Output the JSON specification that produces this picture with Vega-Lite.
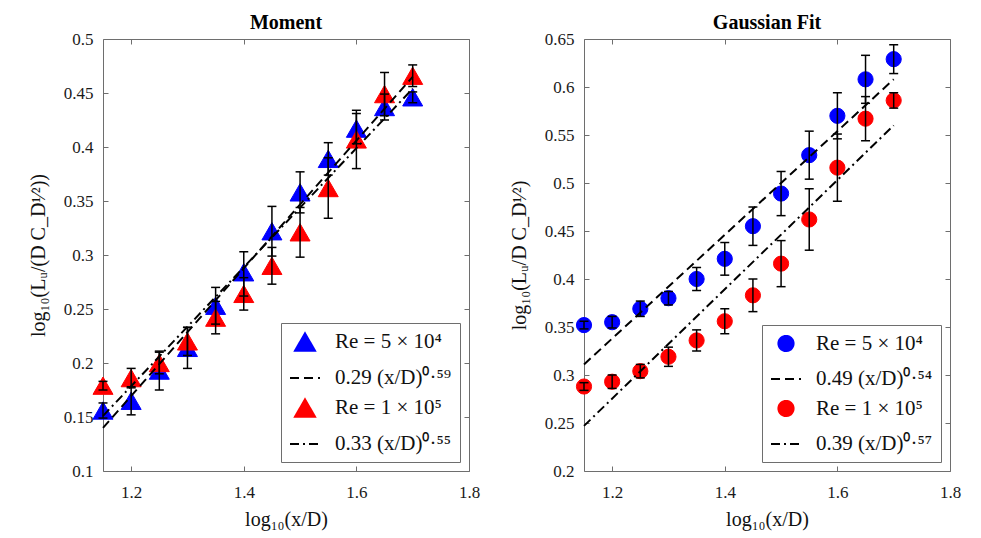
{
  "$schema": "https://vega.github.io/schema/vega-lite/v6.json",
  "padding": {"left": 27, "top": 12, "right": 5, "bottom": 5},
  "spacing": 27,
  "background": "white",
  "resolve": {
    "scale": {"fill": "independent", "stroke": "independent", "shape": "independent", "size": "independent", "strokeDash": "independent"},
    "legend": {"fill": "independent", "stroke": "independent", "shape": "independent", "size": "independent", "strokeDash": "independent"}
  },
  "config": {
    "font": "Liberation Serif",
    "view": {"stroke": "#6e6e6e", "strokeWidth": 1},
    "axis": {
      "domain": false, "grid": false, "tickSize": -5, "tickColor": "#6e6e6e", "tickWidth": 1,
      "labelPadding": 15, "labelFont": "Liberation Serif", "labelFontSize": 17, "labelColor": "#1a1a1a",
      "labelFlush": false, "labelOverlap": false,
      "titleFont": "Liberation Serif", "titleFontSize": 20, "titleFontWeight": "normal", "titleColor": "#111111",
      "titlePadding": 8
    },
    "axisX": {"labelPadding": 18, "titlePadding": 9},
    "axisY": {"titlePadding": 15},
    "legend": {
      "orient": "bottom-right", "offset": 9, "padding": 8, "strokeColor": "#6e6e6e", "fillColor": "white",
      "labelFont": "Liberation Serif", "labelFontSize": 21, "labelColor": "#111111", "labelLimit": 300,
      "symbolStrokeWidth": 2, "rowPadding": 7, "labelOffset": 14, "symbolOpacity": 1
    },
    "title": {"font": "Liberation Serif", "fontSize": 20, "fontWeight": "bold", "color": "#000000", "offset": -3, "anchor": "middle"}
  },
  "datasets": {
    "moment": [
      {"x": 1.15, "y": 0.156, "lo": 0.149, "hi": 0.163, "series": "Re = 5 × 10⁴"},
      {"x": 1.2, "y": 0.165, "lo": 0.152, "hi": 0.178, "series": "Re = 5 × 10⁴"},
      {"x": 1.25, "y": 0.193, "lo": 0.175, "hi": 0.211, "series": "Re = 5 × 10⁴"},
      {"x": 1.3, "y": 0.214, "lo": 0.195, "hi": 0.233, "series": "Re = 5 × 10⁴"},
      {"x": 1.35, "y": 0.253, "lo": 0.236, "hi": 0.27, "series": "Re = 5 × 10⁴"},
      {"x": 1.4, "y": 0.284, "lo": 0.262, "hi": 0.303, "series": "Re = 5 × 10⁴"},
      {"x": 1.45, "y": 0.322, "lo": 0.299, "hi": 0.345, "series": "Re = 5 × 10⁴"},
      {"x": 1.5, "y": 0.358, "lo": 0.339, "hi": 0.377, "series": "Re = 5 × 10⁴"},
      {"x": 1.55, "y": 0.389, "lo": 0.374, "hi": 0.404, "series": "Re = 5 × 10⁴"},
      {"x": 1.6, "y": 0.417, "lo": 0.403, "hi": 0.431, "series": "Re = 5 × 10⁴"},
      {"x": 1.65, "y": 0.437, "lo": 0.425, "hi": 0.449, "series": "Re = 5 × 10⁴"},
      {"x": 1.7, "y": 0.446, "lo": 0.441, "hi": 0.451, "series": "Re = 5 × 10⁴"},
      {"x": 1.15, "y": 0.179, "lo": 0.175, "hi": 0.183, "series": "Re = 1 × 10⁵"},
      {"x": 1.2, "y": 0.186, "lo": 0.177, "hi": 0.195, "series": "Re = 1 × 10⁵"},
      {"x": 1.25, "y": 0.2, "lo": 0.19, "hi": 0.21, "series": "Re = 1 × 10⁵"},
      {"x": 1.3, "y": 0.22, "lo": 0.207, "hi": 0.233, "series": "Re = 1 × 10⁵"},
      {"x": 1.35, "y": 0.242, "lo": 0.227, "hi": 0.257, "series": "Re = 1 × 10⁵"},
      {"x": 1.4, "y": 0.264, "lo": 0.249, "hi": 0.279, "series": "Re = 1 × 10⁵"},
      {"x": 1.45, "y": 0.29, "lo": 0.273, "hi": 0.307, "series": "Re = 1 × 10⁵"},
      {"x": 1.5, "y": 0.321, "lo": 0.298, "hi": 0.344, "series": "Re = 1 × 10⁵"},
      {"x": 1.55, "y": 0.362, "lo": 0.334, "hi": 0.39, "series": "Re = 1 × 10⁵"},
      {"x": 1.6, "y": 0.407, "lo": 0.38, "hi": 0.434, "series": "Re = 1 × 10⁵"},
      {"x": 1.65, "y": 0.449, "lo": 0.429, "hi": 0.469, "series": "Re = 1 × 10⁵"},
      {"x": 1.7, "y": 0.466, "lo": 0.456, "hi": 0.476, "series": "Re = 1 × 10⁵"}
    ],
    "momentFit": [
      {"x": 1.15, "y": 0.14, "series": "0.29 (x/D)⁰·⁵⁹"},
      {"x": 1.7, "y": 0.465, "series": "0.29 (x/D)⁰·⁵⁹"},
      {"x": 1.15, "y": 0.151, "series": "0.33 (x/D)⁰·⁵⁵"},
      {"x": 1.7, "y": 0.454, "series": "0.33 (x/D)⁰·⁵⁵"}
    ],
    "gauss": [
      {"x": 1.15, "y": 0.352, "lo": 0.348, "hi": 0.356, "series": "Re = 5 × 10⁴"},
      {"x": 1.2, "y": 0.355, "lo": 0.349, "hi": 0.361, "series": "Re = 5 × 10⁴"},
      {"x": 1.25, "y": 0.369, "lo": 0.361, "hi": 0.377, "series": "Re = 5 × 10⁴"},
      {"x": 1.3, "y": 0.38, "lo": 0.373, "hi": 0.387, "series": "Re = 5 × 10⁴"},
      {"x": 1.35, "y": 0.4, "lo": 0.388, "hi": 0.412, "series": "Re = 5 × 10⁴"},
      {"x": 1.4, "y": 0.421, "lo": 0.404, "hi": 0.438, "series": "Re = 5 × 10⁴"},
      {"x": 1.45, "y": 0.455, "lo": 0.435, "hi": 0.475, "series": "Re = 5 × 10⁴"},
      {"x": 1.5, "y": 0.489, "lo": 0.466, "hi": 0.512, "series": "Re = 5 × 10⁴"},
      {"x": 1.55, "y": 0.529, "lo": 0.504, "hi": 0.554, "series": "Re = 5 × 10⁴"},
      {"x": 1.6, "y": 0.57, "lo": 0.546, "hi": 0.594, "series": "Re = 5 × 10⁴"},
      {"x": 1.65, "y": 0.608, "lo": 0.583, "hi": 0.633, "series": "Re = 5 × 10⁴"},
      {"x": 1.7, "y": 0.629, "lo": 0.614, "hi": 0.644, "series": "Re = 5 × 10⁴"},
      {"x": 1.15, "y": 0.288, "lo": 0.284, "hi": 0.292, "series": "Re = 1 × 10⁵"},
      {"x": 1.2, "y": 0.293, "lo": 0.286, "hi": 0.3, "series": "Re = 1 × 10⁵"},
      {"x": 1.25, "y": 0.304, "lo": 0.297, "hi": 0.311, "series": "Re = 1 × 10⁵"},
      {"x": 1.3, "y": 0.319, "lo": 0.309, "hi": 0.329, "series": "Re = 1 × 10⁵"},
      {"x": 1.35, "y": 0.336, "lo": 0.325, "hi": 0.347, "series": "Re = 1 × 10⁵"},
      {"x": 1.4, "y": 0.356, "lo": 0.343, "hi": 0.369, "series": "Re = 1 × 10⁵"},
      {"x": 1.45, "y": 0.383, "lo": 0.366, "hi": 0.4, "series": "Re = 1 × 10⁵"},
      {"x": 1.5, "y": 0.416, "lo": 0.392, "hi": 0.44, "series": "Re = 1 × 10⁵"},
      {"x": 1.55, "y": 0.462, "lo": 0.43, "hi": 0.494, "series": "Re = 1 × 10⁵"},
      {"x": 1.6, "y": 0.516, "lo": 0.481, "hi": 0.551, "series": "Re = 1 × 10⁵"},
      {"x": 1.65, "y": 0.567, "lo": 0.544, "hi": 0.59, "series": "Re = 1 × 10⁵"},
      {"x": 1.7, "y": 0.586, "lo": 0.578, "hi": 0.594, "series": "Re = 1 × 10⁵"}
    ],
    "gaussFit": [
      {"x": 1.15, "y": 0.311, "series": "0.49 (x/D)⁰·⁵⁴"},
      {"x": 1.7, "y": 0.608, "series": "0.49 (x/D)⁰·⁵⁴"},
      {"x": 1.15, "y": 0.247, "series": "0.39 (x/D)⁰·⁵⁷"},
      {"x": 1.7, "y": 0.56, "series": "0.39 (x/D)⁰·⁵⁷"}
    ]
  },
  "hconcat": [
    {
      "width": 366, "height": 432,
      "title": "Moment",
      "layer": [
        {
          "data": {"name": "moment"},
          "mark": {"type": "point", "filled": true, "opacity": 1, "strokeWidth": 1},
          "encoding": {
            "x": {"field": "x", "type": "quantitative", "scale": {"domain": [1.15, 1.8], "nice": false, "zero": false},
                  "axis": {"orient": "bottom", "values": [1.2, 1.4, 1.6, 1.8], "format": "~g", "title": "log₁₀(x/D)"}},
            "y": {"field": "y", "type": "quantitative", "scale": {"domain": [0.1, 0.5], "nice": false, "zero": false},
                  "axis": {"orient": "left", "values": [0.1, 0.15, 0.2, 0.25, 0.3, 0.35, 0.4, 0.45, 0.5], "format": "~g", "title": "log₁₀(Lᵤ/(D C_D¹⁄²))"}},
            "fill": {"field": "series", "type": "nominal", "legend": {"title": null},
                     "scale": {"domain": ["Re = 5 × 10⁴", "0.29 (x/D)⁰·⁵⁹", "Re = 1 × 10⁵", "0.33 (x/D)⁰·⁵⁵"], "range": ["#0000ff", "#000000", "#ff0000", "#000000"]}},
            "stroke": {"field": "series", "type": "nominal", "legend": {"title": null},
                     "scale": {"domain": ["Re = 5 × 10⁴", "0.29 (x/D)⁰·⁵⁹", "Re = 1 × 10⁵", "0.33 (x/D)⁰·⁵⁵"], "range": ["#0000ff", "#000000", "#ff0000", "#000000"]}},
            "shape": {"field": "series", "type": "nominal", "legend": {"title": null},
                     "scale": {"domain": ["Re = 5 × 10⁴", "0.29 (x/D)⁰·⁵⁹", "Re = 1 × 10⁵", "0.33 (x/D)⁰·⁵⁵"], "range": ["triangle-up", "stroke", "triangle-up", "stroke"]}},
            "size": {"field": "series", "type": "nominal", "legend": {"title": null},
                     "scale": {"type": "ordinal", "domain": ["Re = 5 × 10⁴", "0.29 (x/D)⁰·⁵⁹", "Re = 1 × 10⁵", "0.33 (x/D)⁰·⁵⁵"], "range": [400, 900, 400, 900]}}
          }
        },
        {
          "data": {"name": "momentFit"},
          "mark": {"type": "line", "strokeWidth": 2},
          "encoding": {
            "x": {"field": "x", "type": "quantitative", "axis": null},
            "y": {"field": "y", "type": "quantitative", "axis": null},
            "stroke": {"field": "series", "type": "nominal", "legend": {"title": null},
                     "scale": {"domain": ["Re = 5 × 10⁴", "0.29 (x/D)⁰·⁵⁹", "Re = 1 × 10⁵", "0.33 (x/D)⁰·⁵⁵"], "range": ["#0000ff", "#000000", "#ff0000", "#000000"]}},
            "strokeDash": {"field": "series", "type": "nominal", "legend": {"title": null},
                     "scale": {"domain": ["Re = 5 × 10⁴", "0.29 (x/D)⁰·⁵⁹", "Re = 1 × 10⁵", "0.33 (x/D)⁰·⁵⁵"], "range": [[1, 0], [9, 5], [1, 0], [9, 4, 2, 4]]}}
          }
        },
        {
          "data": {"name": "moment"},
          "mark": {"type": "rule", "color": "black", "strokeWidth": 1.5},
          "encoding": {
            "x": {"field": "x", "type": "quantitative", "axis": null},
            "y": {"field": "lo", "type": "quantitative", "axis": null},
            "y2": {"field": "hi"}
          }
        },
        {
          "data": {"name": "moment"},
          "mark": {"type": "tick", "orient": "horizontal", "color": "black", "size": 9, "thickness": 1.5, "opacity": 1},
          "encoding": {
            "x": {"field": "x", "type": "quantitative", "axis": null},
            "y": {"field": "lo", "type": "quantitative", "axis": null}
          }
        },
        {
          "data": {"name": "moment"},
          "mark": {"type": "tick", "orient": "horizontal", "color": "black", "size": 9, "thickness": 1.5, "opacity": 1},
          "encoding": {
            "x": {"field": "x", "type": "quantitative", "axis": null},
            "y": {"field": "hi", "type": "quantitative", "axis": null}
          }
        },
        {
          "data": {"name": "momentFit"},
          "mark": {"type": "line", "opacity": 0},
          "encoding": {
            "x": {"field": "x", "type": "quantitative", "axis": {"orient": "top", "values": [1.2, 1.4, 1.6, 1.8], "labels": false, "title": null}},
            "y": {"field": "y", "type": "quantitative", "axis": {"orient": "right", "values": [0.1, 0.15, 0.2, 0.25, 0.3, 0.35, 0.4, 0.45, 0.5], "labels": false, "title": null}}
          }
        }
      ],
      "resolve": {"axis": {"x": "independent", "y": "independent"}}
    },
    {
      "width": 366, "height": 432,
      "title": "Gaussian Fit",
      "layer": [
        {
          "data": {"name": "gauss"},
          "mark": {"type": "point", "filled": true, "opacity": 1, "strokeWidth": 1},
          "encoding": {
            "x": {"field": "x", "type": "quantitative", "scale": {"domain": [1.15, 1.8], "nice": false, "zero": false},
                  "axis": {"orient": "bottom", "values": [1.2, 1.4, 1.6, 1.8], "format": "~g", "title": "log₁₀(x/D)"}},
            "y": {"field": "y", "type": "quantitative", "scale": {"domain": [0.2, 0.65], "nice": false, "zero": false},
                  "axis": {"orient": "left", "values": [0.2, 0.25, 0.3, 0.35, 0.4, 0.45, 0.5, 0.55, 0.6, 0.65], "format": "~g", "title": "log₁₀(Lᵤ/D C_D¹⁄²)"}},
            "fill": {"field": "series", "type": "nominal", "legend": {"title": null},
                     "scale": {"domain": ["Re = 5 × 10⁴", "0.49 (x/D)⁰·⁵⁴", "Re = 1 × 10⁵", "0.39 (x/D)⁰·⁵⁷"], "range": ["#0000ff", "#000000", "#ff0000", "#000000"]}},
            "stroke": {"field": "series", "type": "nominal", "legend": {"title": null},
                     "scale": {"domain": ["Re = 5 × 10⁴", "0.49 (x/D)⁰·⁵⁴", "Re = 1 × 10⁵", "0.39 (x/D)⁰·⁵⁷"], "range": ["#0000ff", "#000000", "#ff0000", "#000000"]}},
            "shape": {"field": "series", "type": "nominal", "legend": {"title": null},
                     "scale": {"domain": ["Re = 5 × 10⁴", "0.49 (x/D)⁰·⁵⁴", "Re = 1 × 10⁵", "0.39 (x/D)⁰·⁵⁷"], "range": ["circle", "stroke", "circle", "stroke"]}},
            "size": {"field": "series", "type": "nominal", "legend": {"title": null},
                     "scale": {"type": "ordinal", "domain": ["Re = 5 × 10⁴", "0.49 (x/D)⁰·⁵⁴", "Re = 1 × 10⁵", "0.39 (x/D)⁰·⁵⁷"], "range": [230, 900, 230, 900]}}
          }
        },
        {
          "data": {"name": "gaussFit"},
          "mark": {"type": "line", "strokeWidth": 2},
          "encoding": {
            "x": {"field": "x", "type": "quantitative", "axis": null},
            "y": {"field": "y", "type": "quantitative", "axis": null},
            "stroke": {"field": "series", "type": "nominal", "legend": {"title": null},
                     "scale": {"domain": ["Re = 5 × 10⁴", "0.49 (x/D)⁰·⁵⁴", "Re = 1 × 10⁵", "0.39 (x/D)⁰·⁵⁷"], "range": ["#0000ff", "#000000", "#ff0000", "#000000"]}},
            "strokeDash": {"field": "series", "type": "nominal", "legend": {"title": null},
                     "scale": {"domain": ["Re = 5 × 10⁴", "0.49 (x/D)⁰·⁵⁴", "Re = 1 × 10⁵", "0.39 (x/D)⁰·⁵⁷"], "range": [[1, 0], [9, 5], [1, 0], [9, 4, 2, 4]]}}
          }
        },
        {
          "data": {"name": "gauss"},
          "mark": {"type": "rule", "color": "black", "strokeWidth": 1.5},
          "encoding": {
            "x": {"field": "x", "type": "quantitative", "axis": null},
            "y": {"field": "lo", "type": "quantitative", "axis": null},
            "y2": {"field": "hi"}
          }
        },
        {
          "data": {"name": "gauss"},
          "mark": {"type": "tick", "orient": "horizontal", "color": "black", "size": 9, "thickness": 1.5, "opacity": 1},
          "encoding": {
            "x": {"field": "x", "type": "quantitative", "axis": null},
            "y": {"field": "lo", "type": "quantitative", "axis": null}
          }
        },
        {
          "data": {"name": "gauss"},
          "mark": {"type": "tick", "orient": "horizontal", "color": "black", "size": 9, "thickness": 1.5, "opacity": 1},
          "encoding": {
            "x": {"field": "x", "type": "quantitative", "axis": null},
            "y": {"field": "hi", "type": "quantitative", "axis": null}
          }
        },
        {
          "data": {"name": "gaussFit"},
          "mark": {"type": "line", "opacity": 0},
          "encoding": {
            "x": {"field": "x", "type": "quantitative", "axis": {"orient": "top", "values": [1.2, 1.4, 1.6, 1.8], "labels": false, "title": null}},
            "y": {"field": "y", "type": "quantitative", "axis": {"orient": "right", "values": [0.2, 0.25, 0.3, 0.35, 0.4, 0.45, 0.5, 0.55, 0.6, 0.65], "labels": false, "title": null}}
          }
        }
      ],
      "resolve": {"axis": {"x": "independent", "y": "independent"}}
    }
  ]
}
